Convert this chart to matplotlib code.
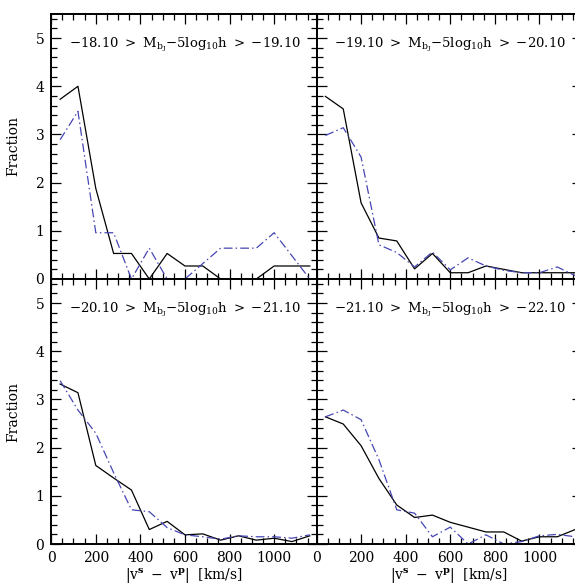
"""
Four-panel fraction vs |v_s - v_p| plot, two luminosity bins per row.
"""

import numpy as np
import matplotlib
matplotlib.use("Agg")
import matplotlib.pyplot as plt
from matplotlib.ticker import MultipleLocator

plt.rcParams["font.family"] = ["DejaVu Serif"]
plt.rcParams["mathtext.fontset"] = "dejavuserif"

# bin centres, km/s
VEL = [40, 120, 200, 280, 360, 440, 520, 600, 680, 760, 840, 920, 1000, 1080, 1160]

PANEL_LABELS = [
    ("18.10", "19.10"),
    ("19.10", "20.10"),
    ("20.10", "21.10"),
    ("21.10", "22.10"),
]

# solid black curves
SOLID_1 = [3.73, 4.00, 1.88, 0.53, 0.53, 0.00, 0.53, 0.27, 0.27, 0.00, 0.00, 0.00, 0.27, 0.27, 0.27]
SOLID_2 = [3.79, 3.53, 1.58, 0.85, 0.79, 0.21, 0.53, 0.13, 0.13, 0.27, 0.20, 0.13, 0.13, 0.13, 0.13]
SOLID_3 = [3.32, 3.14, 1.63, 1.37, 1.12, 0.30, 0.47, 0.19, 0.21, 0.08, 0.17, 0.08, 0.12, 0.05, 0.17]
SOLID_4 = [2.64, 2.49, 2.04, 1.36, 0.81, 0.55, 0.60, 0.45, 0.35, 0.25, 0.25, 0.06, 0.15, 0.15, 0.30]

# blue dash-dot curves
DASH_1 = [2.89, 3.48, 0.96, 0.96, 0.00, 0.64, 0.00, 0.00, 0.32, 0.64, 0.64, 0.64, 0.96, 0.48, 0.00]
DASH_2 = [2.98, 3.14, 2.53, 0.71, 0.55, 0.25, 0.56, 0.19, 0.44, 0.27, 0.18, 0.13, 0.13, 0.25, 0.07]
DASH_3 = [3.39, 2.78, 2.30, 1.48, 0.71, 0.67, 0.34, 0.19, 0.15, 0.10, 0.17, 0.15, 0.15, 0.12, 0.19]
DASH_4 = [2.64, 2.78, 2.58, 1.75, 0.71, 0.64, 0.15, 0.35, 0.00, 0.19, 0.00, 0.05, 0.17, 0.20, 0.15]

SOLIDS = [SOLID_1, SOLID_2, SOLID_3, SOLID_4]
DASHES = [DASH_1, DASH_2, DASH_3, DASH_4]

BLUE = "#4646b4"

W, H = 575, 586
fig = plt.figure(figsize=(W / 100, H / 100), dpi=100)
fig.patch.set_facecolor("white")

x0, pw = 51.2, 265.3      # left edge and panel width, px
y_top, ph = 14.0, 265.0   # top edge and panel height, px

for i in range(4):
    row, col = divmod(i, 2)
    left = (x0 + col * pw) / W
    bottom = 1 - (y_top + (row + 1) * ph) / H
    ax = fig.add_axes([left, bottom, pw / W, ph / H])

    ax.plot(VEL, SOLIDS[i], color="black", lw=0.9)
    ax.plot(VEL, DASHES[i], color=BLUE, lw=0.9, dashes=(7, 2.5, 1.2, 2.5))

    ax.set_xlim(0, 1190)
    ax.set_ylim(0, 5.5)
    ax.xaxis.set_major_locator(MultipleLocator(200))
    ax.xaxis.set_minor_locator(MultipleLocator(50))
    ax.yaxis.set_major_locator(MultipleLocator(1))
    ax.yaxis.set_minor_locator(MultipleLocator(0.2))
    ax.tick_params(which="both", direction="in", top=True, right=True,
                   labelsize=10, width=0.9, colors="black", pad=5)
    ax.tick_params(which="major", length=7.2)
    ax.tick_params(which="minor", length=4)
    for spine in ax.spines.values():
        spine.set_linewidth(1.4)

    if col == 0:
        ax.set_ylabel("Fraction", fontsize=10)
        ax.yaxis.set_label_coords(-0.115, 0.5)
    else:
        ax.tick_params(labelleft=False)
    if row == 0:
        ax.tick_params(labelbottom=False)
    else:
        ax.set_xlabel(r"$|\mathrm{v}^{\mathbf{s}}\ -\ \mathrm{v}^{\mathbf{p}}|\ \ [\mathrm{km/s}]$",
                      fontsize=10, labelpad=1)

    hi, lo = PANEL_LABELS[i]
    txt = (r"${-}%s\ >\ \mathrm{M}_{\mathrm{b_J}}\mathrm{{-}5log_{10}h}\ >\ {-}%s$"
           % (hi, lo))
    ax.text(0.505, 0.885, txt, transform=ax.transAxes, ha="center", va="center",
            fontsize=9.5)

plt.savefig("out.png", dpi=100, facecolor="white")
plt.close()
